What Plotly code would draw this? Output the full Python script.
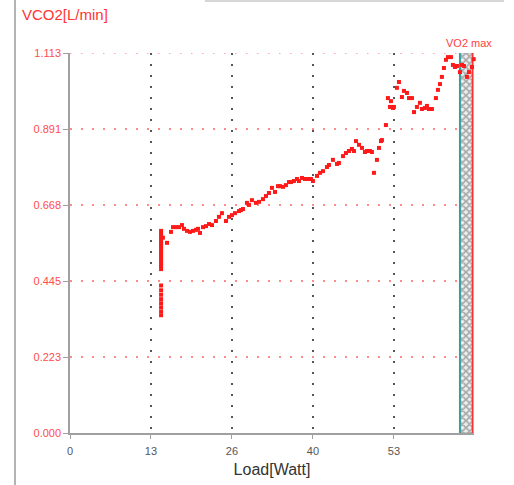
import plotly.graph_objects as go

# ---- data ----
load_cluster = [14.9] * 24
vco2_cluster = [0.592, 0.585, 0.578, 0.570, 0.562, 0.555, 0.548, 0.540, 0.532, 0.525,
                0.518, 0.510, 0.502, 0.495, 0.488, 0.480,
                0.432, 0.418, 0.405, 0.392, 0.380, 0.368, 0.356, 0.345]

load_main = [15.2, 15.87, 16.52, 16.85, 17.34, 17.83, 18.32, 18.65, 19.14, 19.63, 20.12, 20.61,
             20.94, 21.27, 21.76, 22.25, 22.74, 23.23, 23.88, 24.37, 24.86, 25.52, 26.01,
             26.50, 26.99, 27.65, 27.97, 28.30, 28.95, 29.28, 29.77, 30.43, 30.92, 31.57,
             32.06, 32.55, 33.04, 33.54, 34.03, 34.35, 34.84, 35.33, 35.83, 36.15, 36.64,
             37.13, 37.46, 37.95, 38.44, 38.93, 39.42, 39.75, 40.41, 40.90, 41.39, 42.04,
             42.37, 43.02, 43.68, 44.00, 44.66, 45.15, 45.64, 46.13, 46.46, 46.79, 47.28,
             47.77, 48.26, 48.58, 49.08, 49.40, 49.73, 50.22, 50.55, 50.88, 51.04, 51.69,
             52.02, 52.35, 52.51, 52.84, 53.00, 53.49, 53.82, 54.31, 54.64, 55.13, 55.46,
             55.95, 56.28, 56.76, 57.25, 57.58, 58.07, 58.40, 58.73, 59.22, 59.87, 60.20,
             60.53, 60.85, 61.18, 61.51, 61.84, 62.33, 62.65, 62.98, 63.31, 63.80, 64.13,
             64.45, 64.94, 65.27, 65.76, 66.05]
vco2_main = [0.572, 0.557, 0.589, 0.603, 0.603, 0.603, 0.609, 0.598, 0.592, 0.589, 0.592, 0.595,
             0.598, 0.586, 0.603, 0.606, 0.612, 0.609, 0.621, 0.633, 0.644, 0.621, 0.633,
             0.638, 0.644, 0.650, 0.653, 0.656, 0.674, 0.668, 0.682, 0.674, 0.677, 0.685,
             0.694, 0.703, 0.718, 0.706, 0.723, 0.723, 0.721, 0.726, 0.735, 0.735, 0.738,
             0.744, 0.738, 0.747, 0.744, 0.744, 0.744, 0.738, 0.753, 0.762, 0.767, 0.779,
             0.785, 0.800, 0.788, 0.791, 0.811, 0.820, 0.826, 0.832, 0.826, 0.855, 0.844,
             0.835, 0.823, 0.826, 0.826, 0.823, 0.762, 0.800, 0.835, 0.855, 0.858, 0.902,
             0.981, 0.955, 0.972, 0.952, 0.955, 1.011, 1.028, 0.984, 1.002, 0.996, 0.981,
             0.981, 0.940, 0.955, 0.967, 0.949, 0.952, 0.958, 0.949, 0.949, 0.981, 1.005,
             1.022, 1.043, 1.069, 1.093, 1.101, 1.101, 1.078, 1.072, 1.075, 1.057, 1.078,
             1.075, 1.043, 1.057, 1.072, 1.095]

x_tickvals = [0, 13.25, 26.5, 39.75, 53]
x_ticktext = ["0", "13", "26", "40", "53"]
y_tickvals = [0, 0.2226, 0.4452, 0.6678, 0.8904, 1.113]
y_ticktext = ["0.000", "0.223", "0.445", "0.668", "0.891", "1.113"]

x_max = 66.1
y_max = 1.113
vo2max_start = 63.85
vo2max_end = 65.95

RED = "#ff1a1a"
LABEL_RED = "#ff4d4d"
FONT = "Liberation Sans, Arial, sans-serif"
DOT = "1.5px,9.5px"

fig = go.Figure()

# VO2 max hatched band
fig.add_trace(go.Scatter(
    x=[vo2max_start, vo2max_end, vo2max_end, vo2max_start, vo2max_start],
    y=[0, 0, y_max, y_max, 0],
    mode="lines", fill="toself",
    line=dict(color="#a8a8a8", width=1),
    fillcolor="rgba(0,0,0,0)",
    fillpattern=dict(shape="x", size=5, solidity=0.55, fgcolor="#606060", bgcolor="#eeeeee"),
    hoverinfo="skip", showlegend=False,
))
# teal line
fig.add_trace(go.Scatter(x=[vo2max_start - 0.05, vo2max_start - 0.05], y=[0, y_max], mode="lines",
                         line=dict(color="#3a9e9e", width=2), showlegend=False, hoverinfo="skip"))
# red line
fig.add_trace(go.Scatter(x=[vo2max_end - 0.1, vo2max_end - 0.1], y=[0, y_max], mode="lines",
                         line=dict(color="#ff3030", width=1.5), showlegend=False, hoverinfo="skip"))

# data points
fig.add_trace(go.Scatter(x=load_cluster, y=vco2_cluster, mode="markers",
                         marker=dict(symbol="square", size=4, color=RED, line=dict(width=0)),
                         showlegend=False, cliponaxis=False))
fig.add_trace(go.Scatter(x=load_main, y=vco2_main, mode="markers",
                         marker=dict(symbol="square", size=4, color=RED, line=dict(width=0)),
                         showlegend=False, cliponaxis=False))

fig.update_layout(
    width=514, height=485,
    margin=dict(l=70, r=40, t=53, b=52),
    paper_bgcolor="white", plot_bgcolor="white",
    font=dict(family=FONT),
    showlegend=False,
    xaxis=dict(
        range=[0, x_max], tickvals=x_tickvals, ticktext=x_ticktext,
        showgrid=True, gridcolor="#555555", griddash=DOT, gridwidth=1.5,
        showline=True, linecolor="#a0a0a0", linewidth=1.5,
        ticks="outside", ticklen=4, tickcolor="#a0a0a0", tickwidth=1,
        tickfont=dict(size=11, color="#555555"), ticklabelstandoff=3,
        title=dict(text="Load[Watt]", font=dict(size=16, color="#333333"), standoff=8),
        zeroline=False, fixedrange=True, automargin=False,
    ),
    yaxis=dict(
        range=[0, y_max], tickvals=y_tickvals, ticktext=y_ticktext,
        showgrid=True, gridcolor="#ff8a8a", griddash=DOT, gridwidth=1.5,
        showline=True, linecolor="#a0a0a0", linewidth=1.5,
        ticks="outside", ticklen=5, tickcolor="#a0a0a0", tickwidth=1,
        tickfont=dict(size=11, color=LABEL_RED),
        zeroline=False, fixedrange=True, automargin=False,
    ),
    annotations=[
        dict(text="VCO2[L/min]", xref="paper", yref="paper", x=(20 - 70) / 404, y=(433 - 15) / 380,
             xanchor="left", yanchor="middle", showarrow=False,
             font=dict(size=15, color="#ff3333", family=FONT)),
        dict(text="VO2 max", xref="x", yref="paper", x=(vo2max_start + vo2max_end) / 2 + 0.4,
             y=(433 - 43) / 380, xanchor="center", yanchor="middle", showarrow=False,
             font=dict(size=11, color="#ff4040", family=FONT)),
    ],
    shapes=[
        # top grid line at the max tick (plotly hides it at the range edge)
        dict(type="line", xref="x", yref="y", x0=0, x1=vo2max_start, y0=y_max, y1=y_max,
             line=dict(color="#ff8a8a", width=1.5, dash=DOT), layer="below"),
        dict(type="line", xref="paper", yref="paper", x0=(15 - 70) / 404, x1=(15 - 70) / 404,
             y0=(433 - 0) / 380, y1=(433 - 485) / 380, line=dict(color="#9a9a9a", width=1.5)),
        dict(type="line", xref="paper", yref="paper", x0=(205 - 70) / 404, x1=(504 - 70) / 404,
             y0=(433 - 1) / 380, y1=(433 - 1) / 380, line=dict(color="#c8c8c8", width=1.5)),
    ],
)

fig.write_html("out.html")
